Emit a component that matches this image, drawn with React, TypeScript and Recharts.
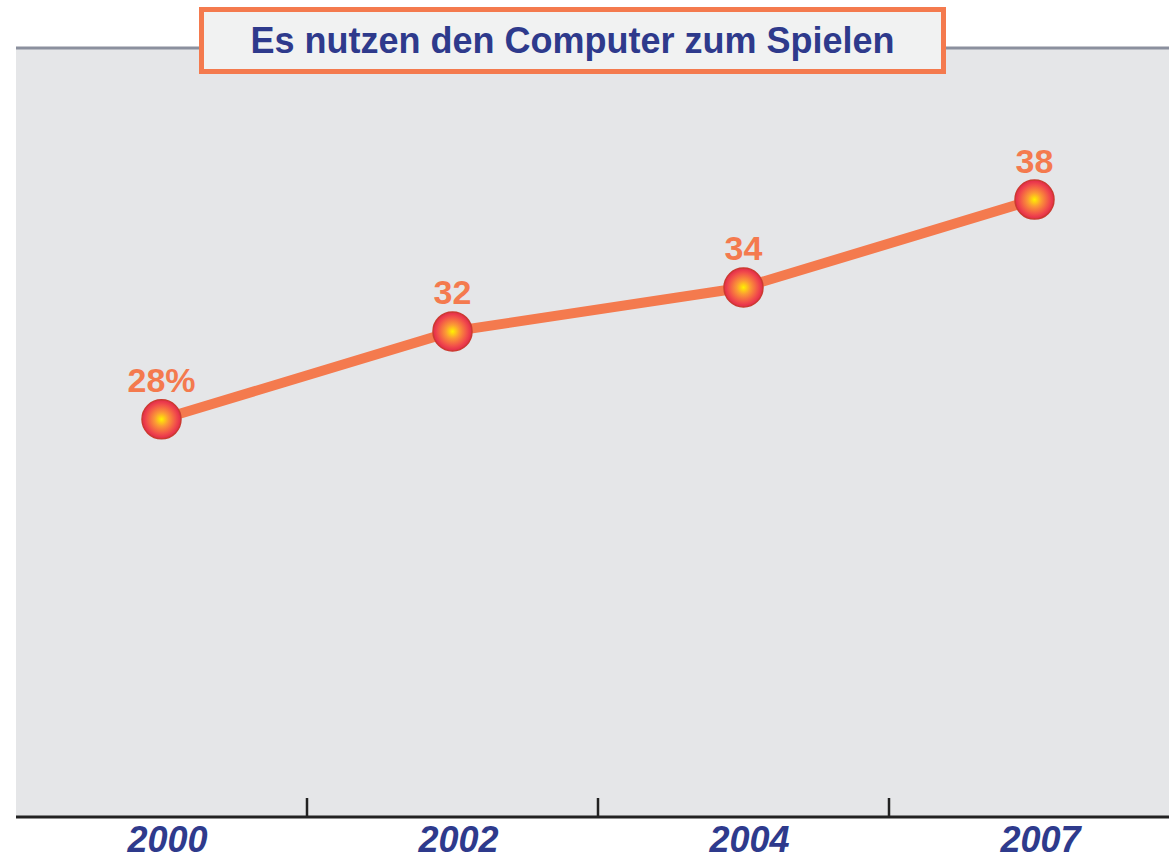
import { LineChart, Line, XAxis, YAxis, ReferenceLine, ReferenceArea, LabelList } from "recharts"

const years = ["2000", "2002", "2004", "2007"]
const shares = [28, 32, 34, 38]
const valueLabels = ["28%", "32", "34", "38"]
const boundaryTicks = [1, 2, 3]

const title = "Es nutzen den Computer zum Spielen"

const navy = "#2e3a8c"
const orange = "#f47a4e"
const panel = "#e5e6e8"
const frame = "#8b909e"

const data = years.map((year, i) => ({ pos: i + 0.5, year, share: shares[i], label: valueLabels[i] }))

const Ball = (props: any) => {
  const { cx, cy, index } = props
  if (cx == null || cy == null) return null
  return <circle key={`ball-${index}`} cx={cx} cy={cy} r={19.5} fill="url(#ballGrad)" stroke="#cc3a30" strokeWidth={1.5} />
}

const ValueLabel = (props: any) => {
  const { x, y, value, index } = props
  return (
    <text
      key={`lbl-${index}`}
      x={x}
      y={y - 27}
      textAnchor="middle"
      fill={orange}
      fontFamily="'Liberation Sans', Arial, sans-serif"
      fontWeight={700}
      fontSize={34}
    >
      {value}
    </text>
  )
}

const BoundaryTick = (props: any) => {
  const { x1, y1, y2 } = props
  const bottom = Math.max(y1, y2)
  return <line x1={x1} x2={x1} y1={bottom - 19} y2={bottom} stroke="#222" strokeWidth={2.5} />
}

export default function App() {
  return (
    <div style={{ position: "absolute", left: 0, top: 0, width: 1169, height: 861, overflow: "hidden", background: "#fff" }}>
      <LineChart width={1180} height={861} data={data} margin={{ top: 48, right: 0, bottom: 0, left: 16 }}>
        <defs>
          <radialGradient id="ballGrad" cx="50%" cy="50%" r="50%">
            <stop offset="0%" stopColor="#fff200" />
            <stop offset="35%" stopColor="#fb9a35" />
            <stop offset="75%" stopColor="#f2504a" />
            <stop offset="100%" stopColor="#e3294c" />
          </radialGradient>
        </defs>
        <ReferenceArea x1={0} x2={4} y1={9.9} y2={44.9} fill={panel} fillOpacity={1} stroke="none" ifOverflow="extendDomain" />
        <XAxis
          dataKey="pos"
          type="number"
          domain={[0, 4]}
          ticks={data.map((d) => d.pos)}
          tickFormatter={(v: number) => years[Math.floor(v)]}
          height={44}
          axisLine={{ stroke: "#222", strokeWidth: 3 }}
          tickLine={false}
          tickMargin={3}
          interval={0}
          tick={{
            fill: navy,
            fontSize: 36,
            fontWeight: 700,
            fontStyle: "italic",
            fontFamily: "'Liberation Sans', Arial, sans-serif",
            dx: 6,
          }}
        />
        <YAxis
          domain={[9.9, 44.9]}
          width={0}
          tick={false}
          tickLine={false}
          axisLine={{ stroke: frame, strokeWidth: 3 }}
          allowDataOverflow
        />
        <ReferenceLine y={44.9} stroke={frame} strokeWidth={3} />
        {boundaryTicks.map((t) => (
          <ReferenceLine key={t} x={t} shape={BoundaryTick} />
        ))}
        <Line
          type="linear"
          dataKey="share"
          stroke={orange}
          strokeWidth={10}
          dot={Ball}
          activeDot={false}
          isAnimationActive={false}
        >
          <LabelList dataKey="label" content={ValueLabel} />
        </Line>
      </LineChart>
      <div
        style={{
          position: "absolute",
          left: 199,
          top: 7,
          width: 737,
          height: 57,
          border: `5px solid ${orange}`,
          background: "#f1f2f2",
          color: navy,
          fontFamily: "'Liberation Sans', Arial, sans-serif",
          fontWeight: 700,
          fontSize: 36,
          lineHeight: "57px",
          textAlign: "center",
          whiteSpace: "nowrap",
        }}
      >
        {title}
      </div>
    </div>
  )
}
